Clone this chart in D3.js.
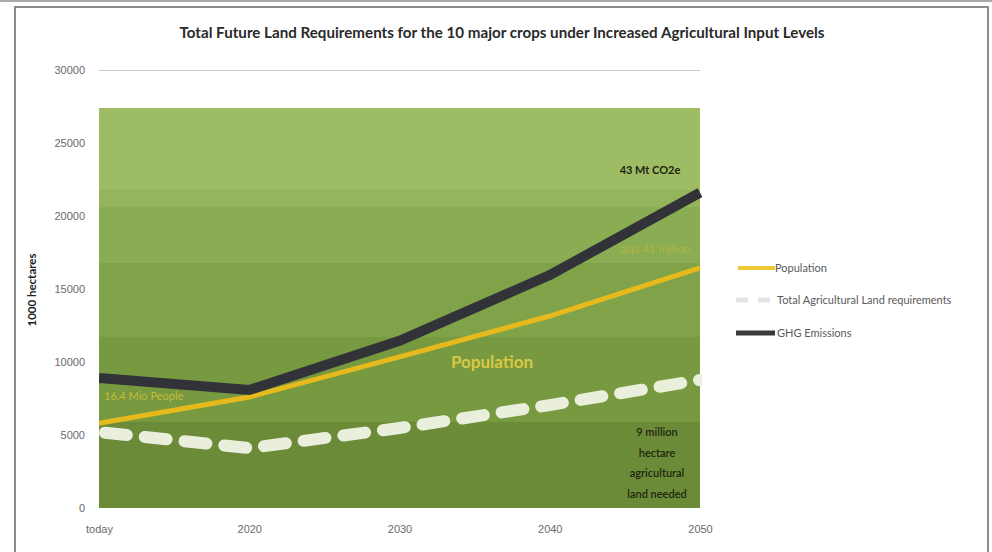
<!DOCTYPE html>
<html><head><meta charset="utf-8">
<script src="https://cdn.jsdelivr.net/npm/d3@7"></script>
<style>body{margin:0;background:#fff;}svg{display:block;font-family:Lato,"Open Sans",sans-serif;}</style>
</head><body>
<svg id="c" width="992" height="552"></svg>
<script>
const categories = ["today","2020","2030","2040","2050"];
const population = [5800, 7600, 10350, 13150, 16450];
const agLand = [5200, 4100, 5480, 7050, 8770];
const ghg = [8900, 8080, 11450, 15950, 21600];
const yTicks = [0,5000,10000,15000,20000,25000,30000];
const bandTops = [27400, 21800, 20600, 16800, 11700, 5900];
const bandColors = ["#9dbc64","#94b55b","#8aac52","#80a349","#77993f","#6b8b38"];
const legendLabels = ["Population","Total Agricultural Land requirements","GHG Emissions"];

const svg = d3.select("#c");
const L=99, R=700, T=70, B=508;
const x = d3.scalePoint().domain(categories).range([L,R]);
const y = d3.scaleLinear().domain([0,30000]).range([B,T]);

svg.append("defs").append("clipPath").attr("id","plot").append("rect").attr("x",L).attr("y",T).attr("width",R-L+2).attr("height",B-T);

// frame
svg.append("line").attr("x1",0).attr("x2",992).attr("y1",1).attr("y2",1).attr("stroke","#aaa").attr("stroke-width",2);
svg.append("rect").attr("x",15).attr("y",7).attr("width",973).attr("height",560).attr("fill","#fff").attr("stroke","#8c8c8c").attr("stroke-width",2);

// title
svg.append("text").attr("x",502).attr("y",38).attr("text-anchor","middle").attr("font-size",14.5).attr("font-weight","bold").attr("fill","#2a2a2a")
  .attr("textLength",645).attr("lengthAdjust","spacingAndGlyphs")
  .text("Total Future Land Requirements for the 10 major crops under Increased Agricultural Input Levels");

// bands (each drawn to the bottom to avoid seams)
bandTops.forEach((v,i)=>{
  const top = Math.round(y(v));
  svg.append("rect").attr("x",L).attr("width",R-L).attr("y",top).attr("height",B-top).attr("fill",bandColors[i]);
});
// top gridline
svg.append("line").attr("x1",L).attr("x2",R).attr("y1",y(30000)+0.5).attr("y2",y(30000)+0.5).attr("stroke","#c8c8c8").attr("stroke-width",1);

// axes
const yAxis = svg.append("g").attr("transform",`translate(${L},0)`).call(d3.axisLeft(y).tickValues(yTicks).tickSize(0).tickPadding(14).tickFormat(d3.format("d")));
yAxis.select(".domain").remove();
yAxis.selectAll("text").attr("font-size",11).attr("fill","#6a6a6a");
const xAxis = svg.append("g").attr("transform",`translate(0,${B})`).call(d3.axisBottom(x).tickSize(0).tickPadding(17));
xAxis.select(".domain").remove();
xAxis.selectAll("text").attr("font-size",11).attr("fill","#6a6a6a");

svg.append("text").attr("transform","translate(36,290) rotate(-90)").attr("text-anchor","middle").attr("font-size",11.5).attr("font-weight","bold").attr("fill","#222").text("1000 hectares");

const lines = svg.append("g").attr("clip-path","url(#plot)");
const line = d3.line().x((d,i)=>x(categories[i])).y(d=>y(d));
lines.append("path").attr("d",line(population)).attr("fill","none").attr("stroke","#e6b91c").attr("stroke-width",5);
lines.append("path").attr("d",line(ghg)).attr("fill","none").attr("stroke","#323338").attr("stroke-width",10);
lines.append("path").attr("d",line(agLand)).attr("fill","none").attr("stroke","#eaefdc").attr("stroke-width",12).attr("stroke-dasharray","22 18").attr("stroke-dashoffset",-6).attr("stroke-linecap","round");

// annotations
svg.append("text").attr("x",650).attr("y",174).attr("text-anchor","middle").attr("font-size",11).attr("font-weight","bold").attr("fill","#1e2410").text("43 Mt CO2e");
svg.append("text").attr("x",655).attr("y",253).attr("text-anchor","middle").attr("font-size",11).attr("fill","#c9bd3a").attr("opacity",0.6).text("app. 41 million");
svg.append("text").attr("x",104).attr("y",400).attr("font-size",11).attr("fill","#d1c23c").attr("opacity",0.85).text("16.4 Mio People");
svg.append("text").attr("x",492).attr("y",368).attr("text-anchor","middle").attr("font-size",17).attr("font-weight","bold").attr("fill","#d9c844").text("Population");
["9 million","hectare","agricultural","land needed"].forEach((t,i)=>{
  svg.append("text").attr("x",657).attr("y",436+i*20.5).attr("text-anchor","middle").attr("font-size",11).attr("font-weight","600").attr("fill","#1f250f").text(t);
});

// legend
const lg = svg.append("g");
const ly = [268,300,333];
lg.append("line").attr("x1",738).attr("x2",775).attr("y1",ly[0]).attr("y2",ly[0]).attr("stroke","#f0c834").attr("stroke-width",4);
lg.append("line").attr("x1",736).attr("x2",776).attr("y1",ly[1]).attr("y2",ly[1]).attr("stroke","#e4e4e4").attr("stroke-width",5).attr("stroke-dasharray","12 10");
lg.append("line").attr("x1",736).attr("x2",775).attr("y1",ly[2]).attr("y2",ly[2]).attr("stroke","#3a3a3a").attr("stroke-width",5);
legendLabels.forEach((t,i)=>{
  lg.append("text").attr("x",i===0?775:777).attr("y",ly[i]+4).attr("font-size",11).attr("fill","#5a5a5a").text(t);
});
</script>
</body></html>
